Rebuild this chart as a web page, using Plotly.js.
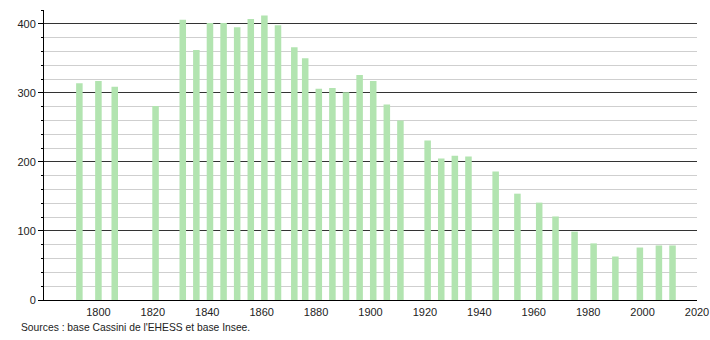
<!DOCTYPE html>
<html>
<head>
<meta charset="utf-8">
<script src="https://cdn.plot.ly/plotly-3.0.1.min.js"></script>
<style>
html,body{margin:0;padding:0;background:#fff;}
#chart{width:710px;height:340px;}
</style>
</head>
<body>
<div id="chart"></div>
<script>
const years = [1793, 1800, 1806, 1821, 1831, 1836, 1841, 1846, 1851, 1856, 1861, 1866,
  1872, 1876, 1881, 1886, 1891, 1896, 1901, 1906, 1911, 1921, 1926, 1931, 1936,
  1946, 1954, 1962, 1968, 1975, 1982, 1990, 1999, 2006, 2011];
const population = [314, 317, 309, 281, 406, 362, 401, 401, 395, 407, 412, 398,
  366, 350, 306, 307, 301, 326, 317, 283, 260, 231, 205, 209, 208,
  186, 154, 141, 121, 99, 82, 63, 76, 79, 79];
const xTickVals = [1800, 1820, 1840, 1860, 1880, 1900, 1920, 1940, 1960, 1980, 2000, 2020];
const yTickVals = [0, 100, 200, 300, 400];
const sourceText = "Sources : base Cassini de l'EHESS et base Insee.";

const trace = {
  type: 'bar',
  x: years,
  y: population,
  width: 2.4,
  marker: {color: 'rgb(178,228,176)', line: {width: 0}},
  hoverinfo: 'x+y'
};

const layout = {
  width: 710, height: 340,
  margin: {l: 44, r: 13, t: 10, b: 40},
  paper_bgcolor: '#fff', plot_bgcolor: '#fff',
  showlegend: false,
  font: {family: 'Liberation Sans, Arial, sans-serif', size: 11, color: '#222'},
  xaxis: {
    range: [1780, 2020],
    tickvals: xTickVals,
    ticktext: xTickVals.map(String),
    showgrid: false,
    zeroline: false,
    showline: true, linecolor: '#000', linewidth: 1,
    ticks: '', ticklabelstandoff: 2,
    tickfont: {size: 11, color: '#222'}
  },
  yaxis: {
    range: [0, 420],
    tickvals: yTickVals,
    showgrid: true, gridcolor: '#333', gridwidth: 1,
    zeroline: false,
    showline: true, linecolor: '#000', linewidth: 1,
    ticks: 'outside', ticklen: 5, tickcolor: '#000',
    tickfont: {size: 11, color: '#222'},
    minor: {dtick: 20, showgrid: true, gridcolor: '#cfcfcf', gridwidth: 1,
            ticks: 'outside', ticklen: 2, tickcolor: '#000'}
  },
  annotations: [{
    text: sourceText, xref: 'paper', yref: 'paper',
    x: -0.038, y: -0.096, xanchor: 'left', yanchor: 'middle',
    showarrow: false, font: {size: 10.3, color: '#222'}
  }]
};

Plotly.newPlot('chart', [trace], layout, {displayModeBar: false, staticPlot: true});
</script>
</body>
</html>
